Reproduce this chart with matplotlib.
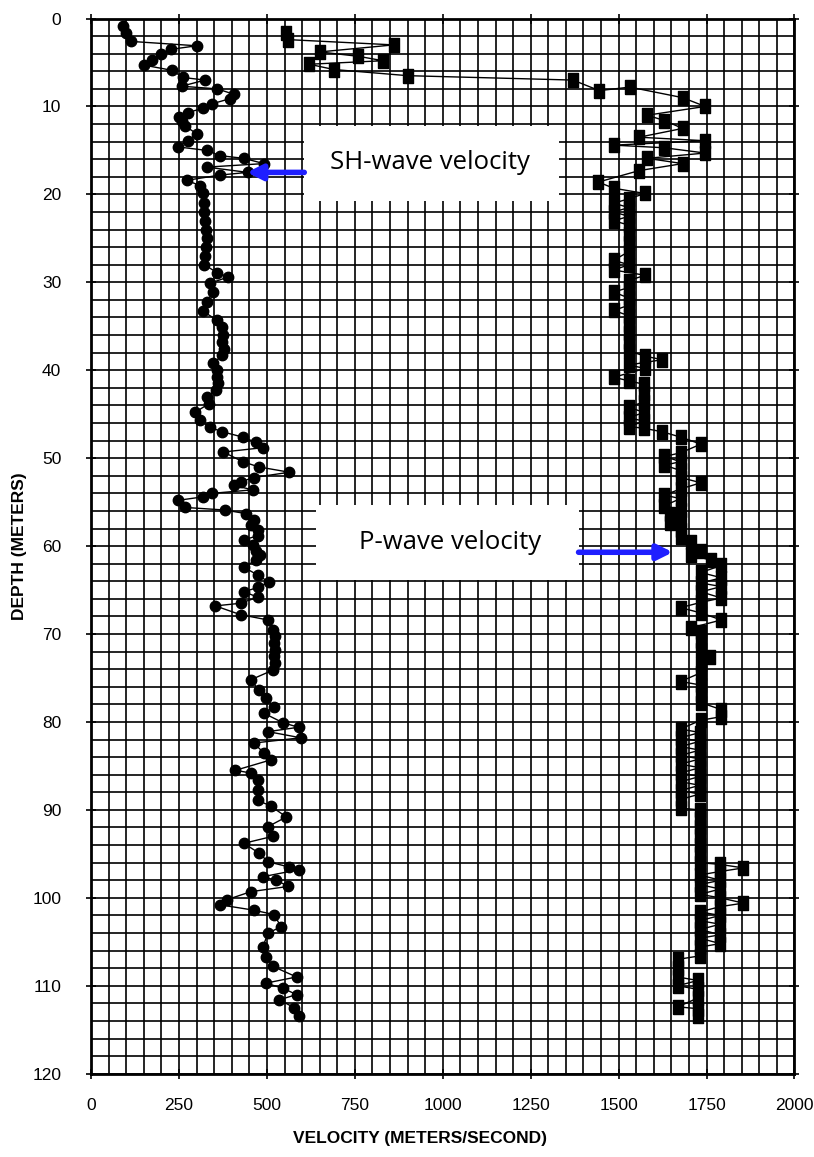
import numpy as np
import matplotlib
matplotlib.use("Agg")
import matplotlib.pyplot as plt
from matplotlib.patches import Rectangle

plt.rcParams["font.family"] = ["Liberation Sans", "DejaVu Sans"]

# SH-wave velocity profile (circles)
sh_velocity = [90, 100, 112, 300, 228, 199, 174, 150, 231, 260, 324, 257, 358, 405, 396, 344, 318, 275,
               251, 258, 266, 300, 275, 246, 329, 367, 434, 491, 329, 445, 367, 272, 309, 318,
               320, 322, 325, 327, 328, 326, 324, 322, 358, 390, 338, 347, 329, 318, 358, 373,
               375, 373, 378, 373, 347, 358, 358, 362, 355, 329, 335, 295, 309, 338, 373, 431,
               468, 490, 376, 431, 477, 564, 462, 425, 405, 460, 344, 318, 246, 266, 381, 439,
               462, 455, 474, 475, 434, 460, 468, 480, 468, 434, 474, 506, 474, 434, 474, 425,
               353, 425, 503, 517, 522, 520, 524, 520, 522, 517, 454, 477, 497, 520, 491, 546,
               590, 503, 596, 462, 491, 512, 410, 454, 474, 474, 474, 512, 555, 503, 517, 434,
               477, 503, 564, 590, 488, 526, 561, 454, 387, 367, 462, 520, 540, 503, 488, 497,
               517, 584, 497, 546, 584, 535, 578, 590]
sh_depth = [0.9, 1.7, 2.6, 3.1, 3.5, 4.0, 4.7, 5.3, 5.9, 6.7, 7.0, 7.7, 8.0, 8.6, 9.1, 9.7, 10.2, 10.7,
            11.2, 11.7, 12.2, 13.1, 13.9, 14.6, 15.0, 15.6, 15.9, 16.5, 16.9, 17.5, 17.8, 18.4, 19.0, 19.9,
            21.0, 22.0, 23.0, 24.0, 25.0, 26.0, 27.0, 28.0, 28.9, 29.4, 30.1, 31.1, 32.2, 33.3, 34.3, 35.1,
            36.0, 36.8, 37.6, 38.3, 39.2, 40.0, 40.8, 41.5, 42.2, 43.1, 43.8, 44.8, 45.7, 46.5, 47.0, 47.6,
            48.2, 48.8, 49.3, 50.4, 51.0, 51.6, 52.2, 52.7, 53.1, 53.6, 54.0, 54.4, 54.8, 55.6, 55.9, 56.3,
            57.0, 57.6, 58.2, 58.8, 59.3, 59.9, 60.5, 61.0, 61.6, 62.4, 63.3, 64.1, 64.7, 65.2, 65.8, 66.5,
            66.8, 67.8, 68.4, 69.5, 70.2, 71.0, 71.8, 72.5, 73.3, 74.1, 75.2, 76.4, 77.3, 78.3, 79.0, 80.1,
            80.6, 81.1, 81.8, 82.4, 83.5, 84.3, 85.5, 85.8, 86.6, 87.7, 88.9, 89.6, 90.8, 91.9, 93.0, 93.8,
            94.9, 95.9, 96.5, 96.8, 97.6, 98.0, 98.7, 99.3, 100.2, 100.8, 101.4, 101.9, 103.3, 104.0, 105.6, 106.7,
            107.8, 109.0, 109.7, 110.3, 111.0, 111.6, 112.5, 113.4]

# P-wave velocity profile (squares)
p_velocity = [555, 560, 860, 650, 760, 830, 620, 690, 900, 1370, 1445, 1532, 1682, 1746, 1581, 1630, 1682,
              1558, 1746, 1486, 1630, 1746, 1581, 1682, 1558, 1442, 1486, 1575, 1529, 1486, 1529, 1486,
              1529, 1486, 1529, 1529, 1529, 1529, 1486, 1529, 1486, 1575, 1529, 1529, 1486, 1529, 1529,
              1486, 1529, 1529, 1529, 1529, 1529, 1575, 1624, 1529, 1575, 1486, 1529, 1572, 1572, 1572,
              1529, 1572, 1529, 1572, 1529, 1572, 1624, 1676, 1734, 1676, 1630, 1676, 1630, 1676, 1676,
              1734, 1676, 1630, 1676, 1630, 1676, 1647, 1676, 1647, 1676, 1676, 1705, 1734, 1705, 1763,
              1792, 1734, 1792, 1734, 1792, 1734, 1792, 1734, 1676, 1734, 1792, 1705, 1734, 1734, 1734,
              1760, 1734, 1734, 1676, 1734, 1734, 1734, 1792, 1792, 1734, 1676, 1731, 1676, 1731, 1676,
              1731, 1676, 1731, 1676, 1731, 1676, 1731, 1676, 1731, 1676, 1731, 1676, 1676, 1731, 1731,
              1731, 1731, 1731, 1731, 1731, 1789, 1855, 1789, 1731, 1789, 1731, 1789, 1731, 1789, 1855,
              1789, 1731, 1789, 1731, 1789, 1731, 1789, 1731, 1789, 1731, 1731, 1668, 1668, 1668, 1725,
              1668, 1725, 1725, 1668, 1725, 1725]
p_depth = [1.6, 2.4, 3.0, 3.8, 4.3, 4.8, 5.2, 5.8, 6.5, 7.0, 8.2, 7.8, 9.0, 10.0, 11.0, 11.6, 12.5,
           13.5, 13.9, 14.4, 14.7, 15.3, 15.9, 16.5, 17.3, 18.6, 19.3, 19.9, 20.5, 21.0, 21.5, 22.0,
           22.5, 23.0, 23.5, 24.5, 25.5, 26.5, 27.5, 28.0, 28.6, 29.2, 29.8, 30.6, 31.1, 31.8, 32.6,
           33.2, 33.8, 34.8, 35.8, 36.8, 37.8, 38.4, 38.8, 39.4, 39.8, 40.8, 41.2, 41.6, 42.6, 43.6,
           44.2, 44.8, 45.4, 45.8, 46.4, 46.6, 47.0, 47.6, 48.4, 49.4, 49.8, 50.4, 50.8, 51.4, 52.2,
           52.8, 53.5, 54.2, 54.6, 55.4, 55.9, 56.4, 57.0, 57.4, 58.2, 59.0, 59.5, 60.5, 61.0, 61.6,
           62.2, 63.0, 63.6, 64.2, 64.6, 65.2, 65.9, 66.4, 67.0, 67.6, 68.4, 69.3, 69.8, 70.8, 71.8,
           72.6, 73.4, 74.4, 75.4, 75.8, 76.8, 77.8, 78.6, 79.4, 79.8, 80.8, 81.2, 81.8, 82.2, 82.8,
           83.2, 83.8, 84.2, 84.8, 85.2, 85.8, 86.2, 86.8, 87.2, 87.8, 88.2, 88.8, 89.8, 90.0, 91.0,
           92.0, 93.0, 94.0, 95.0, 96.0, 96.2, 96.6, 97.0, 97.4, 98.0, 98.5, 99.0, 99.6, 100.0, 100.6,
           101.0, 101.6, 102.0, 102.6, 103.0, 103.6, 104.2, 104.6, 105.2, 105.6, 106.6, 107.0, 108.0, 109.0, 109.4,
           110.0, 110.4, 111.4, 112.4, 112.6, 113.4]

x_ticks = [0, 250, 500, 750, 1000, 1250, 1500, 1750, 2000]
y_ticks = list(range(0, 121, 10))

blue = "#1f1fff"

fig = plt.figure(figsize=(8.14, 11.57), dpi=100)
ax = fig.add_axes([0.112, 0.072, 0.864, 0.912])

ax.set_xlim(0, 2000)
ax.set_ylim(120, 0)
ax.set_xticks(x_ticks)
ax.set_yticks(y_ticks)
ax.set_xticks(np.arange(0, 2001, 50), minor=True)
ax.set_yticks(np.arange(0, 121, 2), minor=True)
ax.grid(which="both", color="black", linewidth=1.2)
ax.set_axisbelow(True)
ax.tick_params(which="minor", length=0)
ax.tick_params(which="major", direction="inout", length=7, width=1.2,
               top=True, right=True, labelsize=12.5)
ax.tick_params(axis="x", pad=14)
ax.tick_params(axis="y", pad=18)
for s in ax.spines.values():
    s.set_linewidth(2)

ax.plot(sh_velocity, sh_depth, color="black", lw=1, marker="o", markersize=7.5, zorder=3)
ax.plot(p_velocity, p_depth, color="black", lw=1,
        marker=[(-3, -4), (3, -4), (3, 4), (-3, 4), (-3, -4)], markersize=10, zorder=3)

ax.set_xlabel("VELOCITY (METERS/SECOND)", fontsize=12.5, fontweight="bold")
ax.xaxis.set_label_coords(0.468, -0.054)
ax.set_ylabel("DEPTH (METERS)", fontsize=12.5, fontweight="bold", labelpad=4)

# annotation boxes
ax.add_patch(Rectangle((606, 12.2), 723, 8.5, facecolor="white", edgecolor="none", zorder=4))
ax.text(963, 16.4, "SH-wave velocity", fontsize=18.5, family="Open Sans",
        ha="center", va="center", zorder=5)
ax.annotate("", xy=(443, 17.5), xytext=(606, 17.5), zorder=6,
            arrowprops=dict(arrowstyle="-|>,head_length=0.9,head_width=0.45",
                            color=blue, lw=4, shrinkA=0, shrinkB=0))

ax.add_patch(Rectangle((640, 55.3), 746, 8.6, facecolor="white", edgecolor="none", zorder=4))
ax.text(1020, 59.6, "P-wave velocity", fontsize=18.5, family="Open Sans",
        ha="center", va="center", zorder=5)
ax.annotate("", xy=(1654, 60.7), xytext=(1386, 60.7), zorder=6,
            arrowprops=dict(arrowstyle="-|>,head_length=0.9,head_width=0.45",
                            color=blue, lw=4, shrinkA=0, shrinkB=0))

fig.savefig("out.png", dpi=100)
